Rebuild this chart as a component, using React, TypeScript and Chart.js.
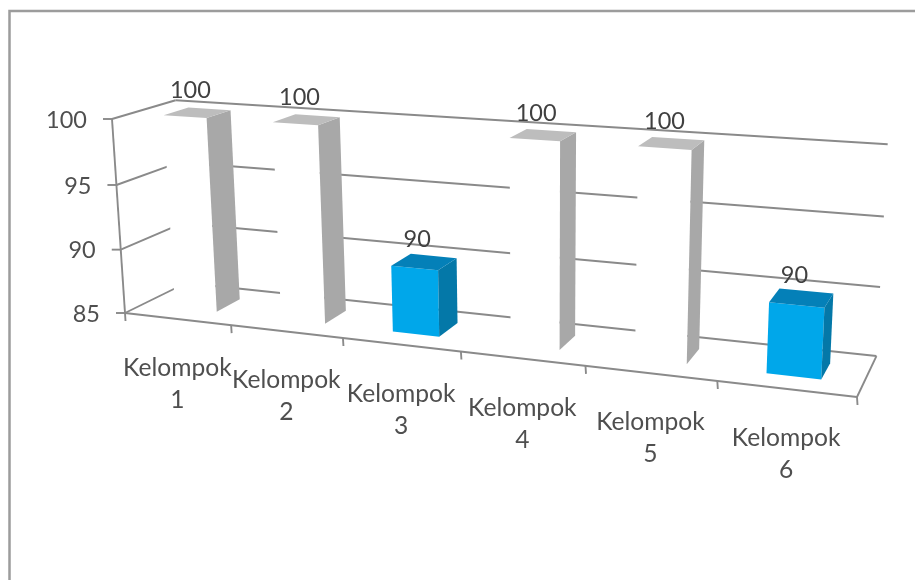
import { useEffect, useRef } from "react";
import { Chart, BarController, BarElement, CategoryScale, LinearScale } from "chart.js";

const categories = ["Kelompok 1", "Kelompok 2", "Kelompok 3", "Kelompok 4", "Kelompok 5", "Kelompok 6"];
const values = [100, 100, 90, 100, 100, 90];
const frontColors = ["#ffffff", "#ffffff", "#00a7ea", "#ffffff", "#ffffff", "#00a7ea"];

const AXIS_MIN = 85;
const AXIS_MAX = 100;
const AXIS_STEP = 5;

// Side and top shades of a box, keyed by its front colour.
const SHADES: Record<string, { top: string; side: string }> = {
  "#ffffff": { top: "#bdbdbd", side: "#a8a8a8" },
  "#00a7ea": { top: "#0480b8", side: "#0478a8" },
};

const LINE_COLOR = "#8a8a8a";
const TICK_TEXT = "#4f4f4f";
const VALUE_TEXT = "#404040";
const FONT = "23.5px Lato";
const CATEGORY_FONT = "24.6px Lato";

type Pt = { x: number; y: number };

// Projection of the unit box (u across, v up, w into the page) onto the canvas.
const ORIGIN: Pt = { x: 125, y: 313 };
const U_END: Pt = { x: 857, y: 397 };
const V_END: Pt = { x: 112, y: 119 };
const W_END: Pt = { x: 186, y: 283 };
const U_WEIGHT = 0.848;
const V_WEIGHT = 0.97;
const W_WEIGHT = 1.0645;

function project(u: number, v: number, w: number): Pt {
  const d = 1 + u * (U_WEIGHT - 1) + v * (V_WEIGHT - 1) + w * (W_WEIGHT - 1);
  const axis = (k: "x" | "y") =>
    ORIGIN[k] +
    u * (U_WEIGHT * U_END[k] - ORIGIN[k]) +
    v * (V_WEIGHT * V_END[k] - ORIGIN[k]) +
    w * (W_WEIGHT * W_END[k] - ORIGIN[k]);
  return { x: axis("x") / d, y: axis("y") / d };
}

// Depth range of the boxes inside the floor (150% gap depth).
const BOX_NEAR = 0.3;
const BOX_FAR = 0.7;

function polygon(ctx: CanvasRenderingContext2D, pts: Pt[], fill: string) {
  ctx.beginPath();
  pts.forEach((p, i) => (i ? ctx.lineTo(p.x, p.y) : ctx.moveTo(p.x, p.y)));
  ctx.closePath();
  ctx.fillStyle = fill;
  ctx.fill();
}

function segment(ctx: CanvasRenderingContext2D, a: Pt, b: Pt, width = 1.9) {
  ctx.beginPath();
  ctx.moveTo(a.x, a.y);
  ctx.lineTo(b.x, b.y);
  ctx.strokeStyle = LINE_COLOR;
  ctx.lineWidth = width;
  ctx.stroke();
}

// Bar element that turns its scale-derived rectangle into a projected box.
class BoxElement extends BarElement {
  static id = "box3d";
  draw(ctx: CanvasRenderingContext2D) {
    const { x, y, base, width } = (this as any).getProps(["x", "y", "base", "width"]);
    const area = (this as any).$area;
    const u0 = (x - width / 2 - area.left) / (area.right - area.left);
    const u1 = (x + width / 2 - area.left) / (area.right - area.left);
    const v0 = (area.bottom - base) / (area.bottom - area.top);
    const v1 = (area.bottom - y) / (area.bottom - area.top);
    const front = (this as any).options.backgroundColor as string;
    const shade = SHADES[front];
    ctx.save();
    polygon(ctx, [project(u0, v0, BOX_NEAR), project(u1, v0, BOX_NEAR), project(u1, v1, BOX_NEAR), project(u0, v1, BOX_NEAR)], front);
    polygon(ctx, [project(u1, v0, BOX_NEAR), project(u1, v0, BOX_FAR), project(u1, v1, BOX_FAR), project(u1, v1, BOX_NEAR)], shade.side);
    polygon(ctx, [project(u0, v1, BOX_NEAR), project(u1, v1, BOX_NEAR), project(u1, v1, BOX_FAR), project(u0, v1, BOX_FAR)], shade.top);
    ctx.restore();
  }
}

class Box3DController extends BarController {
  static id = "bar3d";
  static defaults = { ...(BarController as any).defaults, dataElementType: "box3d" };
  draw() {
    const meta = (this as any)._cachedMeta;
    meta.data.forEach((el: any) => (el.$area = (this as any).chart.chartArea));
    super.draw();
  }
}

Chart.register(BarController, BarElement, CategoryScale, LinearScale, BoxElement as any, Box3DController as any);

const unitV = (scale: any, value: number, area: any) =>
  (area.bottom - scale.getPixelForValue(value)) / (area.bottom - area.top);

// Panel border, walls, gridlines and axis ticks, drawn under the boxes.
const wallsPlugin = {
  id: "walls",
  beforeDatasetsDraw(chart: any) {
    const { ctx, chartArea: area, scales } = chart;
    const yScale = scales.y;
    ctx.save();
    ctx.strokeStyle = "#9c9c9c";
    ctx.lineWidth = 2.5;
    ctx.beginPath();
    ctx.moveTo(9.5, area.bottom);
    ctx.lineTo(9.5, 11);
    ctx.lineTo(area.right, 11);
    ctx.stroke();

    yScale.ticks.forEach((t: any) => {
      const v = unitV(yScale, t.value, area);
      segment(ctx, project(0, v, 0), project(0, v, 1));
      segment(ctx, project(0, v, 1), project(1, v, 1));
      const p = project(0, v, 0);
      segment(ctx, { x: p.x - 9, y: p.y }, p);
      ctx.fillStyle = TICK_TEXT;
      ctx.font = FONT;
      ctx.textAlign = "right";
      ctx.textBaseline = "middle";
      ctx.fillText(String(t.value), p.x - 25, p.y + 1);
    });
    segment(ctx, project(0, 0, 0), project(0, 1, 0));
    segment(ctx, project(0, 0, 0), project(1, 0, 0));
    segment(ctx, project(1, 0, 0), project(1, 0, 1));

    const count = categories.length;
    for (let i = 0; i <= count; i++) {
      const p = project(i / count, 0, 0);
      segment(ctx, p, { x: p.x + 0.5, y: p.y + 8 });
    }
    ctx.fillStyle = TICK_TEXT;
    ctx.font = CATEGORY_FONT;
    ctx.textAlign = "center";
    ctx.textBaseline = "middle";
    categories.forEach((name, i) => {
      const p = project((i + 0.5) / count, 0, 0);
      const [word, num] = name.split(" ");
      ctx.fillText(word, p.x, p.y + 49);
      ctx.fillText(num, p.x, p.y + 81);
    });
    ctx.restore();
  },
  afterDatasetsDraw(chart: any) {
    const { ctx, chartArea: area } = chart;
    const meta = chart.getDatasetMeta(0);
    ctx.save();
    ctx.fillStyle = VALUE_TEXT;
    ctx.font = FONT;
    ctx.textAlign = "center";
    ctx.textBaseline = "middle";
    meta.data.forEach((el: any, i: number) => {
      const u = (el.x - area.left) / (area.right - area.left);
      const v = (area.bottom - el.y) / (area.bottom - area.top);
      const p = project(u, v, (BOX_NEAR + BOX_FAR) / 2);
      ctx.fillText(String(values[i]), p.x - 7, p.y - 22);
    });
    ctx.restore();
  },
};

export default function App() {
  const ref = useRef<HTMLCanvasElement | null>(null);
  useEffect(() => {
    const chart = new Chart(ref.current!, {
      type: "bar3d" as any,
      data: {
        labels: categories,
        datasets: [
          {
            data: values,
            base: AXIS_MIN,
            backgroundColor: frontColors,
            categoryPercentage: 0.4,
            barPercentage: 1,
            clip: false,
          } as any,
        ],
      },
      options: {
        animation: false,
        responsive: false,
        layout: { padding: 0 },
        events: [],
        plugins: { legend: { display: false }, tooltip: { enabled: false } },
        scales: {
          x: { type: "category", display: false },
          y: { type: "linear", display: false, min: AXIS_MIN, max: AXIS_MAX, ticks: { stepSize: AXIS_STEP } },
        },
      },
      plugins: [wallsPlugin],
    });
    return () => chart.destroy();
  }, []);
  return (
    <div style={{ position: "fixed", left: 0, top: 0, width: 915, height: 580, background: "#fff" }}>
      <canvas ref={ref} width={915} height={580} style={{ display: "block" }} />
    </div>
  );
}
